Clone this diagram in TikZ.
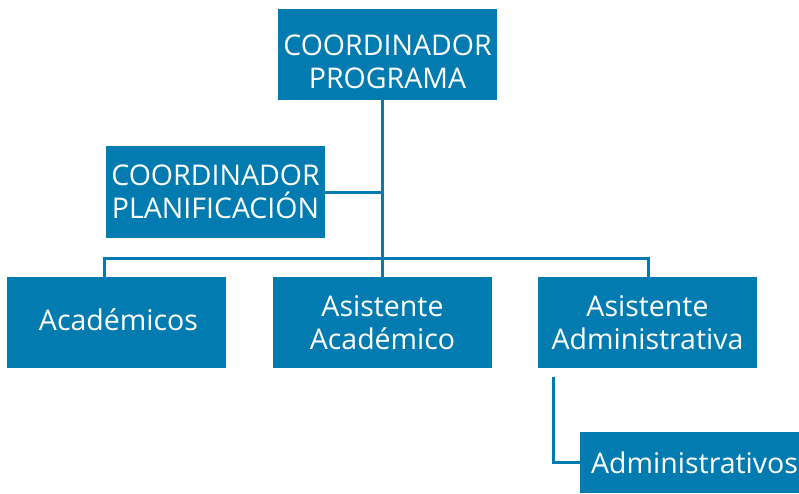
\documentclass[tikz,border=0pt]{standalone}
\usepackage{fontspec}
\setmainfont{Open Sans}
\definecolor{orgblue}{HTML}{027BB0}
\begin{document}
\begin{tikzpicture}[x=1pt,y=1pt,
  box/.style={fill=orgblue,text=white,minimum width=219pt,minimum height=91pt,inner sep=0pt,align=center,font=\fontsize{28.5}{33}\selectfont},
  link/.style={draw=orgblue,line width=3pt}]
\useasboundingbox (0,0) rectangle (799,-493);
\node[box] (prog) at (387.5,-54.5) {};
\node[text=white,align=center,inner sep=0pt,font=\fontsize{28.5}{33}\selectfont] (progtext) at (387.5,-62) {COORDINADOR\\PROGRAMA};
\node[box,minimum height=92pt] (plan) at (215.5,-192) {COORDINADOR\\PLANIFICACIÓN};
\node[box] (acad) at (116.5,-322.5) {};
\node[text=white,inner sep=0pt,font=\fontsize{28.5}{33}\selectfont] (acadtext) at (118.5,-320) {Académicos};
\node[box] (asis) at (382.5,-322.5) {Asistente\\Académico};
\node[box] (adm) at (647.5,-322.5) {Asistente\\Administrativa};
\node[box,minimum height=61pt,text width=217pt,align=right] (adms) at (689.5,-462.5) {Administrativos};
\coordinate (top) at (382,-100);
\coordinate (bus) at (382,-258);
\coordinate (busl) at (104,-258);
\coordinate (busr) at (648,-258);
\coordinate (admdown) at (553,-377);
\draw[link] (top) -- (bus);
\draw[link] (plan.east) -- (plan.east -| top);
\draw[link] (busl |- acad.north) -- (busl) -- (busr) -- (busr |- adm.north);
\draw[link] (bus) -- (bus |- asis.north);
\draw[link] (admdown) |- (adms.west);
\end{tikzpicture}
\end{document}
